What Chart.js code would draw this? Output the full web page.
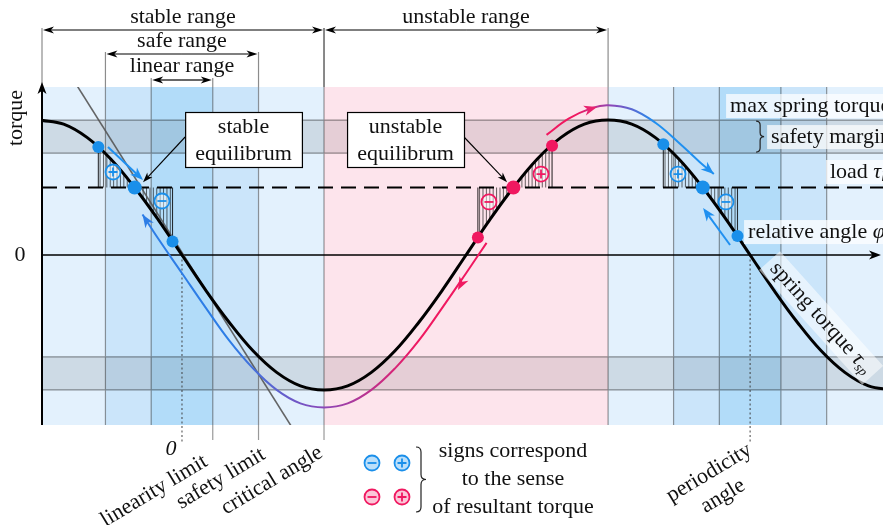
<!DOCTYPE html>
<html>
<head>
<meta charset="utf-8">
<script src="https://cdn.jsdelivr.net/npm/chart.js@4.4.1/dist/chart.umd.min.js"></script>
<style>
  body { margin: 0; background: #fff; }
  #wrap { width: 883px; height: 525px; }
</style>
</head>
<body>
<div id="wrap"><canvas id="myChart"></canvas></div>
<script>
// relative angle phi in degrees, torque as a fraction of the max spring torque
const phiMin = -88.7, phiMax = 444.2;
const torqueMin = -1.26, torqueMax = 1.245;

const angles = [-90, -75, -60, -45, -30, -15, 0, 15, 30, 45, 60, 75, 90, 105, 120, 135, 150, 165, 180,
    195, 210, 225, 240, 255, 270, 285, 300, 315, 330, 345, 360, 375, 390, 405, 420, 435, 450];
const springTorque = [1.0, 0.97, 0.87, 0.71, 0.5, 0.26, 0, -0.26, -0.5, -0.71, -0.87, -0.97, -1.0, -0.97, -0.87, -0.71, -0.5, -0.26, 0,
    0.26, 0.5, 0.71, 0.87, 0.97, 1.0, 0.97, 0.87, 0.71, 0.5, 0.26, 0, -0.26, -0.5, -0.71, -0.87, -0.97, -1.0];

// disturbed motion below the curve (back to stable point) and above it (over the max)
const returnAngles = [-25, -15, 0, 15, 30, 45, 60, 75, 90, 105, 120, 135, 150, 165, 180, 193];
const returnTorque = [0.3, 0.12, -0.135, -0.39, -0.635, -0.84, -1.0, -1.1, -1.13, -1.1, -1.0, -0.84, -0.635, -0.39, -0.135, 0.09];
const escapeAngles = [231, 245, 260, 270, 285, 300, 315, 328, 337];
const escapeTorque = [0.89, 1.01, 1.09, 1.11, 1.08, 0.98, 0.83, 0.69, 0.6];

// linearised spring (tangent at zero)
const linearAngles = [-70, 72];
const linearTorque = [1.32, -1.32];

const loadTorque = 0.5;
const marginTorque = 0.755;
const linearLimit = 19.5;
const safetyLimit = 48.5;
const criticalAngle = 90;
const periodicityAngle = 360;

// states around each equilibrium: [before, equilibrium, after]
const stateAngles = [-53, -30, -6, 187.5, 210, 234.5, 305, 330, 352];
const stateTorque = [0.8, 0.5, 0.1, 0.13, 0.5, 0.81, 0.82, 0.5, 0.14];
const stateKind = ['s', 's', 's', 'u', 'u', 'u', 's', 's', 's'];

// signs of resultant torque
const signAngles = [-43.7, -12.7, 194.5, 227.5, 314.3, 344.7];
const signTorque = [0.615, 0.4, 0.393, 0.6, 0.6, 0.393];
const signPlus = [true, false, false, true, true, false];
const signKind = ['s', 's', 'u', 'u', 's', 's'];

const BLUE = '#1a8fea';
const PINK = '#f01860';
const F = '"Liberation Serif", "DejaVu Serif", serif';
const FS = 22;
const SHADE = { light: '#e3f1fd', mid: '#cbe5fa', dark: '#b2dcf9', pink: '#fde4ec' };

function font(size, italic) {
    return (italic ? 'italic ' : '') + size + 'px ' + F;
}

function stealth(ctx, x, y, ang, len, wid, color) {
    ctx.save();
    ctx.translate(x, y);
    ctx.rotate(ang);
    ctx.beginPath();
    ctx.moveTo(0, 0);
    ctx.lineTo(-len, -wid);
    ctx.lineTo(-len * 0.72, 0);
    ctx.lineTo(-len, wid);
    ctx.closePath();
    ctx.fillStyle = color;
    ctx.fill();
    ctx.restore();
}

function arrow(ctx, x1, y1, x2, y2, color, lw, len, wid) {
    const ang = Math.atan2(y2 - y1, x2 - x1);
    ctx.strokeStyle = color;
    ctx.lineWidth = lw;
    ctx.beginPath();
    ctx.moveTo(x1, y1);
    ctx.lineTo(x2 - Math.cos(ang) * len * 0.7, y2 - Math.sin(ang) * len * 0.7);
    ctx.stroke();
    stealth(ctx, x2, y2, ang, len, wid, color);
}

function sign(ctx, x, y, plus, color, fill, r) {
    ctx.beginPath();
    ctx.arc(x, y, r, 0, 2 * Math.PI);
    ctx.fillStyle = fill;
    ctx.fill();
    ctx.lineWidth = 1.8;
    ctx.strokeStyle = color;
    ctx.stroke();
    const h = r * 0.6;
    ctx.beginPath();
    ctx.moveTo(x - h, y);
    ctx.lineTo(x + h, y);
    if (plus) {
        ctx.moveTo(x, y - h);
        ctx.lineTo(x, y + h);
    }
    ctx.stroke();
}

function brace(ctx, x, y1, y2, w) {
    const ym = (y1 + y2) / 2, h = w / 2;
    ctx.beginPath();
    ctx.moveTo(x, y1);
    ctx.quadraticCurveTo(x + h, y1, x + h, y1 + h);
    ctx.lineTo(x + h, ym - h);
    ctx.quadraticCurveTo(x + h, ym, x + w, ym);
    ctx.quadraticCurveTo(x + h, ym, x + h, ym + h);
    ctx.lineTo(x + h, y2 - h);
    ctx.quadraticCurveTo(x + h, y2, x, y2);
    ctx.stroke();
}

// parts: [text, 'n' normal | 'i' italic | 's' italic subscript]
function richWidth(ctx, parts, size) {
    let w = 0;
    parts.forEach(([t, k]) => {
        ctx.font = font(k === 's' ? size * 0.62 : size, k !== 'n');
        w += ctx.measureText(t).width;
    });
    return w;
}

function rich(ctx, parts, x, y, size) {
    let cx = x;
    ctx.textAlign = 'left';
    parts.forEach(([t, k]) => {
        ctx.font = font(k === 's' ? size * 0.62 : size, k !== 'n');
        ctx.fillText(t, cx, k === 's' ? y + size * 0.25 : y);
        cx += ctx.measureText(t).width;
    });
}

function trajGradient(stops) {
    return function(c) {
        const chart = c.chart;
        if (!chart.chartArea) return stops[0][1];
        const sx = chart.scales.x;
        const x0 = sx.getPixelForValue(stops[0][0]);
        const x1 = sx.getPixelForValue(stops[stops.length - 1][0]);
        const g = chart.ctx.createLinearGradient(x0, 0, x1, 0);
        stops.forEach(([phi, col]) => g.addColorStop((sx.getPixelForValue(phi) - x0) / (x1 - x0), col));
        return g;
    };
}

const diagramPlugin = {
    id: 'springDiagram',
    beforeDatasetsDraw(chart) {
        const ctx = chart.ctx, a = chart.chartArea;
        const X = v => chart.scales.x.getPixelForValue(v);
        const Y = v => chart.scales.y.getPixelForValue(v);
        ctx.save();

        // zones along the angle axis
        const edges = [phiMin, -safetyLimit, -linearLimit, linearLimit, safetyLimit, criticalAngle,
            periodicityAngle - criticalAngle, periodicityAngle - safetyLimit, periodicityAngle - linearLimit,
            periodicityAngle + linearLimit, periodicityAngle + safetyLimit, phiMax];
        const shades = ['light', 'mid', 'dark', 'mid', 'light', 'pink', 'light', 'mid', 'dark', 'mid', 'light'];
        shades.forEach((s, i) => {
            ctx.fillStyle = SHADE[s];
            ctx.fillRect(X(edges[i]), a.top, X(edges[i + 1]) - X(edges[i]), a.bottom - a.top);
        });

        // safety margin bands
        ctx.fillStyle = 'rgba(20,20,20,0.1)';
        [[1.0, marginTorque], [-marginTorque, -1.0]].forEach(([t, b]) => {
            ctx.fillRect(a.left, Y(t), a.right - a.left, Y(b) - Y(t));
        });
        ctx.strokeStyle = 'rgba(0,0,0,0.4)';
        ctx.lineWidth = 1.2;
        ctx.beginPath();
        [1.0, marginTorque, -marginTorque, -1.0].forEach(t => {
            ctx.moveTo(a.left, Y(t));
            ctx.lineTo(a.right, Y(t));
        });
        edges.slice(1, -1).forEach(e => {
            ctx.moveTo(X(e), a.top);
            ctx.lineTo(X(e), a.bottom);
        });
        // extensions down to the angle labels
        [linearLimit, safetyLimit, criticalAngle].forEach(e => {
            ctx.moveTo(X(e), a.bottom);
            ctx.lineTo(X(e), a.bottom + 15);
        });
        ctx.stroke();

        // dotted zero and period angle
        ctx.setLineDash([2, 2.5]);
        ctx.strokeStyle = 'rgba(60,60,60,0.8)';
        ctx.lineWidth = 1.2;
        ctx.beginPath();
        [0, periodicityAngle].forEach(e => {
            ctx.moveTo(X(e), Y(0));
            ctx.lineTo(X(e), a.bottom + 17);
        });
        ctx.stroke();
        ctx.setLineDash([]);

        // hatched areas between spring torque and load
        const line = chart.getDatasetMeta(0).dataset;
        if (line.updateControlPoints) line.updateControlPoints(a, 'x');
        for (let g = 0; g < stateAngles.length; g += 3) {
            [[stateAngles[g], stateAngles[g + 1]], [stateAngles[g + 1], stateAngles[g + 2]]].forEach(([f, t]) => {
                ctx.save();
                ctx.beginPath();
                ctx.rect(X(f), a.top, X(t) - X(f), a.bottom - a.top);
                ctx.clip();
                ctx.beginPath();
                line.path(ctx);
                ctx.lineTo(X(angles[angles.length - 1]), Y(loadTorque));
                ctx.lineTo(X(angles[0]), Y(loadTorque));
                ctx.closePath();
                ctx.clip('evenodd');
                ctx.strokeStyle = 'rgba(0,0,0,0.75)';
                ctx.lineWidth = 0.8;
                ctx.beginPath();
                for (let x = X(f) + 1.7; x < X(t); x += 3.4) {
                    ctx.moveTo(x, a.top);
                    ctx.lineTo(x, a.bottom);
                }
                ctx.stroke();
                ctx.restore();
            });
            ctx.strokeStyle = 'rgba(0,0,0,0.8)';
            ctx.lineWidth = 1.1;
            ctx.beginPath();
            [g, g + 2].forEach(k => {
                ctx.moveTo(X(stateAngles[k]), Y(stateTorque[k]));
                ctx.lineTo(X(stateAngles[k]), Y(loadTorque));
            });
            ctx.stroke();
        }

        // load line
        ctx.strokeStyle = '#000';
        ctx.lineWidth = 2;
        ctx.setLineDash([15, 8]);
        ctx.beginPath();
        ctx.moveTo(a.left, Y(loadTorque));
        ctx.lineTo(a.right, Y(loadTorque));
        ctx.stroke();
        ctx.setLineDash([]);

        // axes
        ctx.lineWidth = 1.6;
        ctx.beginPath();
        ctx.moveTo(a.left, Y(0));
        ctx.lineTo(a.right - 8, Y(0));
        ctx.stroke();
        stealth(ctx, a.right - 2, Y(0), 0, 12, 4.5, '#000');
        ctx.lineWidth = 2;
        ctx.beginPath();
        ctx.moveTo(a.left, a.bottom);
        ctx.lineTo(a.left, a.top + 2);
        ctx.stroke();
        stealth(ctx, a.left, a.top - 5, -Math.PI / 2, 12, 4.5, '#000');
        ctx.restore();
    },
    afterDatasetsDraw(chart) {
        const ctx = chart.ctx, a = chart.chartArea;
        const X = v => chart.scales.x.getPixelForValue(v);
        const Y = v => chart.scales.y.getPixelForValue(v);
        ctx.save();
        ctx.fillStyle = '#111';
        ctx.textBaseline = 'alphabetic';

        // range dimensions above the plot
        const dims = [
            ['stable range', phiMin, criticalAngle, 30, 23],
            ['unstable range', criticalAngle, periodicityAngle - criticalAngle, 30, 23],
            ['safe range', -safetyLimit, safetyLimit, 54, 47],
            ['linear range', -linearLimit, linearLimit, 80, 72]
        ];
        dims.forEach(([text, f, t, ly, ty]) => {
            ctx.strokeStyle = 'rgba(0,0,0,0.45)';
            ctx.lineWidth = 1.2;
            ctx.beginPath();
            ctx.moveTo(X(f), ly - 2);
            ctx.lineTo(X(f), a.top);
            ctx.moveTo(X(t), ly - 2);
            ctx.lineTo(X(t), a.top);
            ctx.stroke();
            const m = (X(f) + X(t)) / 2;
            arrow(ctx, m, ly, X(f) + 1, ly, '#000', 1.2, 11, 3.5);
            arrow(ctx, m, ly, X(t) - 1, ly, '#000', 1.2, 11, 3.5);
            ctx.fillStyle = '#111';
            ctx.font = font(FS);
            ctx.textAlign = 'center';
            ctx.fillText(text, m, ty);
        });

        // trajectory arrowheads
        const heads = [
            [-25, 0.3, -15, 0.12, '#2d7de6'],
            [174.9, -0.26, 182, -0.1, PINK],
            [263, 1.096, 252, 1.06, '#e8226e'],
            [337, 0.6, 328, 0.69, '#2090f0']
        ];
        heads.forEach(([tx, ty, fx, fy, c]) => {
            const ang = Math.atan2(Y(ty) - Y(fy), X(tx) - X(fx));
            stealth(ctx, X(tx), Y(ty), ang, 13, 5, c);
        });
        arrow(ctx, X(-46.9), Y(0.8), X(-24.7), Y(0.556), '#2090f0', 2, 13, 5);
        arrow(ctx, X(347.3), Y(0.074), X(330.2), Y(0.348), '#2090f0', 2, 13, 5);

        // signs of the resultant torque
        signAngles.forEach((p, i) => {
            const c = signKind[i] === 's' ? BLUE : PINK;
            sign(ctx, X(p), Y(signTorque[i]), signPlus[i], c, 'rgba(255,255,255,0.45)', 7.5);
        });

        // equilibrium callouts
        [['stable', 2, 76, -24.7, 0.54, 0], ['unstable', 104.6, 178.7, 206, 0.54, 1]].forEach(([w, f, t, px, py, right]) => {
            const x0 = X(f), x1 = X(t), y0 = 112, y1 = 167;
            const sx = right ? x1 : x0;
            arrow(ctx, sx, 137, X(px), Y(py), '#000', 1.1, 10, 3.5);
            ctx.fillStyle = '#fff';
            ctx.fillRect(x0, y0, x1 - x0, y1 - y0);
            ctx.strokeStyle = '#000';
            ctx.lineWidth = 1.2;
            ctx.strokeRect(x0 + 0.5, y0 + 0.5, x1 - x0, y1 - y0);
            ctx.fillStyle = '#111';
            ctx.font = font(FS);
            ctx.textAlign = 'center';
            ctx.fillText(w, (x0 + x1) / 2, y0 + 21);
            ctx.fillText('equilibrum', (x0 + x1) / 2, y0 + 48);
        });

        // right-hand notes
        const notes = [
            [[['max spring torque', 'n']], 347.3, 1.104],
            [[['safety margin', 'n']], 373.3, 0.874],
            [[['load ', 'n'], ['τ', 'i'], ['l', 's']], 410.6, 0.615],
            [[['relative angle ', 'n'], ['φ', 'i']], 358.7, 0.17]
        ];
        notes.forEach(([parts, p, t]) => {
            const w = richWidth(ctx, parts, FS);
            ctx.fillStyle = 'rgba(255,255,255,0.72)';
            ctx.fillRect(X(p) - 4, Y(t) - 12, w + 8, 24);
            ctx.fillStyle = '#111';
            ctx.textBaseline = 'middle';
            rich(ctx, parts, X(p), Y(t), FS);
        });
        ctx.strokeStyle = '#222';
        ctx.lineWidth = 1.2;
        brace(ctx, X(363.8), Y(1.0) + 1, Y(marginTorque) - 1, 8);

        // curve label along the spring torque
        const lab = [['spring torque ', 'n'], ['τ', 'i'], ['sp', 's']];
        const lw = richWidth(ctx, lab, FS);
        ctx.save();
        ctx.translate(X(405), Y(-0.467));
        ctx.rotate(48 * Math.PI / 180);
        ctx.fillStyle = 'rgba(255,255,255,0.55)';
        ctx.fillRect(-lw / 2 - 6, -14, lw + 12, 28);
        ctx.fillStyle = '#111';
        rich(ctx, lab, -lw / 2, 0, FS);
        ctx.restore();

        // axis labels
        ctx.textBaseline = 'middle';
        ctx.textAlign = 'center';
        ctx.font = font(FS);
        ctx.fillText('0', 20, Y(0));
        ctx.save();
        ctx.translate(16, 118);
        ctx.rotate(-Math.PI / 2);
        ctx.fillText('torque', 0, 0);
        ctx.restore();

        ctx.font = font(FS, true);
        ctx.fillText('0', X(0) - 11, a.bottom + 24);
        const rot = -31 * Math.PI / 180;
        [['linearity limit', linearLimit, -7, 460], ['safety limit', safetyLimit, 5, 453], ['critical angle', criticalAngle, -3, 451]]
            .forEach(([t, p, dx, y]) => {
                ctx.save();
                ctx.translate(X(p) + dx, y);
                ctx.rotate(rot);
                ctx.font = font(FS);
                ctx.textAlign = 'right';
                ctx.fillText(t, 0, 0);
                ctx.restore();
            });
        ctx.save();
        ctx.translate(X(periodicityAngle) - 41, 473);
        ctx.rotate(rot);
        ctx.font = font(FS);
        ctx.textAlign = 'center';
        ctx.fillText('periodicity', 0, 0);
        ctx.fillText('angle', 0, 27);
        ctx.restore();

        // sign legend
        sign(ctx, 372, 463, false, BLUE, 'rgba(30,150,240,0.3)', 7.5);
        sign(ctx, 402, 463, true, BLUE, 'rgba(30,150,240,0.3)', 7.5);
        sign(ctx, 372, 497, false, PINK, 'rgba(240,30,100,0.25)', 7.5);
        sign(ctx, 402, 497, true, PINK, 'rgba(240,30,100,0.25)', 7.5);
        ctx.strokeStyle = '#222';
        ctx.lineWidth = 1.2;
        brace(ctx, 416, 447, 512, 10);
        ctx.fillStyle = '#111';
        ctx.font = font(FS);
        ctx.textAlign = 'center';
        ctx.textBaseline = 'alphabetic';
        ctx.fillText('signs correspond', 513, 457);
        ctx.fillText('to the sense', 513, 485);
        ctx.fillText('of resultant torque', 513, 513);
        ctx.restore();
    }
};

const ctx = document.getElementById('myChart').getContext('2d');
const myChart = new Chart(ctx, {
    type: 'line',
    data: {
        datasets: [
            {
                label: 'spring torque',
                data: angles.map((p, i) => ({ x: p, y: springTorque[i] })),
                borderColor: '#000',
                borderWidth: 3,
                pointRadius: 0,
                tension: 0.4,
                order: 1
            },
            {
                label: 'return',
                data: returnAngles.map((p, i) => ({ x: p, y: returnTorque[i] })),
                borderColor: trajGradient([[30, '#2d7de6'], [90, '#8c47b8'], [150, PINK]]),
                borderWidth: 2,
                pointRadius: 0,
                tension: 0.4,
                order: 2
            },
            {
                label: 'escape',
                data: escapeAngles.map((p, i) => ({ x: p, y: escapeTorque[i] })),
                borderColor: trajGradient([[250, PINK], [272, '#8c47b8'], [300, '#2090f0']]),
                borderWidth: 2,
                pointRadius: 0,
                tension: 0.4,
                order: 2
            },
            {
                label: 'linear spring',
                data: linearAngles.map((p, i) => ({ x: p, y: linearTorque[i] })),
                borderColor: 'rgba(85,85,85,0.9)',
                borderWidth: 1.6,
                pointRadius: 0,
                order: 3
            },
            {
                label: 'states',
                data: stateAngles.map((p, i) => ({ x: p, y: stateTorque[i] })),
                showLine: false,
                pointRadius: stateAngles.map((p, i) => (i % 3 === 1 ? 7 : 6)),
                pointBackgroundColor: stateKind.map(k => (k === 's' ? BLUE : PINK)),
                pointBorderWidth: 0,
                order: 0
            }
        ]
    },
    options: {
        responsive: true,
        maintainAspectRatio: false,
        animation: false,
        events: [],
        layout: { autoPadding: false, padding: { left: 42, top: 87, right: 0, bottom: 100 } },
        elements: { line: { capBezierPoints: false } },
        scales: {
            x: { type: 'linear', min: phiMin, max: phiMax, display: false },
            y: { min: torqueMin, max: torqueMax, display: false }
        },
        plugins: {
            legend: { display: false },
            tooltip: { enabled: false }
        }
    },
    plugins: [diagramPlugin]
});
</script>
</body>
</html>
